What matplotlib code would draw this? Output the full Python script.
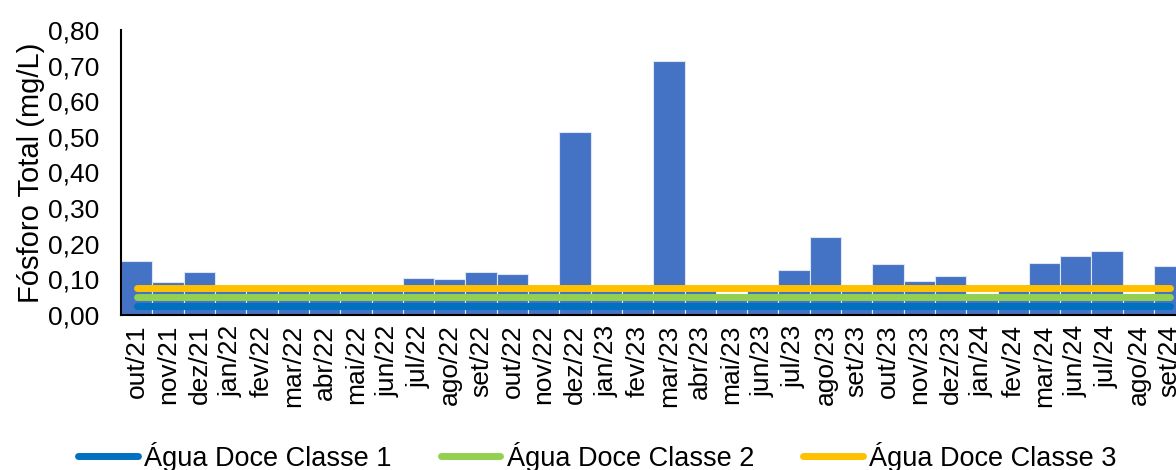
import matplotlib.pyplot as plt
import numpy as np
from matplotlib.ticker import FuncFormatter

plt.rcParams['font.family'] = ['Liberation Sans', 'DejaVu Sans']

meses = ["out/21", "nov/21", "dez/21", "jan/22", "fev/22", "mar/22", "abr/22",
         "mai/22", "jun/22", "jul/22", "ago/22", "set/22", "out/22", "nov/22",
         "dez/22", "jan/23", "fev/23", "mar/23", "abr/23", "mai/23", "jun/23",
         "jul/23", "ago/23", "set/23", "out/23", "nov/23", "dez/23", "jan/24",
         "fev/24", "mar/24", "jun/24", "jul/24", "ago/24", "set/24"]
fosforo = [0.15, 0.092, 0.121, 0.07, 0.07, 0.07, 0.07,
           0.07, 0.07, 0.104, 0.100, 0.121, 0.116, 0.07,
           0.514, 0.07, 0.07, 0.714, 0.07, 0.05, 0.07,
           0.126, 0.218, 0.07, 0.142, 0.094, 0.110, 0.05,
           0.07, 0.146, 0.166, 0.179, 0.05, 0.137]
classe1 = 0.025
classe2 = 0.05
classe3 = 0.075

x = np.arange(len(meses))

fig = plt.figure(figsize=(11.76, 4.70), dpi=100)
ax = fig.add_axes([0.103, 0.330, 0.897, 0.606])

ax.bar(x, fosforo, width=1.0, color="#4472C4", edgecolor="#DCE6F5", linewidth=0.8, zorder=2)
ax.plot(x, [classe1] * len(x), color="#0070C0", lw=5, solid_capstyle="round", zorder=3, label="Água Doce Classe 1")
ax.plot(x, [classe2] * len(x), color="#92D050", lw=5, solid_capstyle="round", zorder=3, label="Água Doce Classe 2")
ax.plot(x, [classe3] * len(x), color="#FFC000", lw=5, solid_capstyle="round", zorder=3, label="Água Doce Classe 3")

ax.set_xlim(-0.5, 33.2)
ax.set_ylim(0, 0.8)
ax.set_yticks(np.arange(0, 0.81, 0.1))
ax.yaxis.set_major_formatter(FuncFormatter(lambda v, p: f"{v:.2f}".replace(".", ",")))
ax.set_xticks(x)
ax.set_xticklabels(meses, rotation=90)
ax.tick_params(axis="y", length=0, pad=16, labelsize=19)
ax.tick_params(axis="x", length=0, pad=7, labelsize=19)
ax.set_ylabel("Fósforo Total (mg/L)", fontsize=21, labelpad=2)
ax.spines["top"].set_visible(False)
ax.spines["right"].set_visible(False)
ax.spines["left"].set_linewidth(1.5)
ax.spines["bottom"].set_linewidth(1.5)

fig.legend(loc="center", bbox_to_anchor=(0.508, 0.028), ncol=3, frameon=False,
           fontsize=19.5, handlelength=2.2, handletextpad=0.25, columnspacing=1.8)

fig.savefig("out.png", dpi=100)
